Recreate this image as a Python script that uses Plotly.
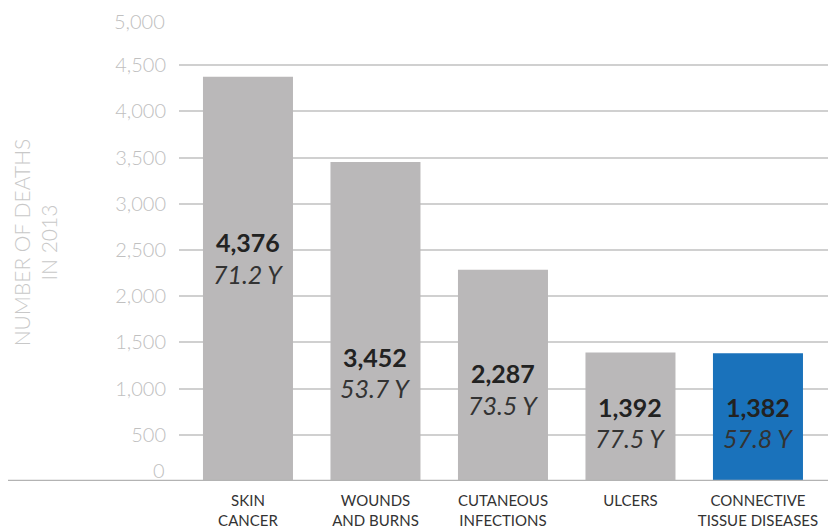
import plotly.graph_objects as go

categories = ["SKIN<br>CANCER", "WOUNDS<br>AND BURNS", "CUTANEOUS<br>INFECTIONS", "ULCERS", "CONNECTIVE<br>TISSUE DISEASES"]
deaths = [4376, 3452, 2287, 1392, 1382]
avg_age = [71.2, 53.7, 73.5, 77.5, 57.8]
y_ticks = [0, 500, 1000, 1500, 2000, 2500, 3000, 3500, 4000, 4500, 5000]
y_title = "NUMBER OF DEATHS<br>IN 2013"

# label placement (layout only)
label_y_num = [2592, 1342, 1169, 801, 801]
label_y_age = [2240, 1006, 823, 465, 465]

bar_colors = ["#bab8b9"] * 4 + ["#1a72bb"]
FONT = "Lato"
TICK_FONT = dict(family=FONT, size=20, color="#c0c0c0", weight=300)

fig = go.Figure()
fig.add_trace(go.Bar(
    x=list(range(len(categories))), y=deaths,
    marker=dict(color=bar_colors, line=dict(width=0)),
    hoverinfo="skip",
))

annotations = []
for i, (d, a) in enumerate(zip(deaths, avg_age)):
    annotations.append(dict(x=i, y=label_y_num[i], xref="x", yref="y",
                            text=f"<b>{d:,}</b>", showarrow=False,
                            font=dict(family=FONT, size=25, color="#222222", weight=900)))
    annotations.append(dict(x=i, y=label_y_age[i], xref="x", yref="y",
                            text=f"<i>{a} Y</i>", showarrow=False,
                            font=dict(family=FONT, size=25, color="#333333")))
# the zero label sits slightly above the base line
annotations.append(dict(x=0, y=y_ticks[0], xref="paper", yref="y", text=f"{y_ticks[0]:,}",
                        xanchor="right", yanchor="bottom", xshift=-12, yshift=-3,
                        showarrow=False, font=TICK_FONT))
# the top label, nudged so it stays inside the figure
annotations.append(dict(x=0, y=y_ticks[-1], xref="paper", yref="y", text=f"{y_ticks[-1]:,}",
                        xanchor="right", yanchor="middle", xshift=-12, yshift=-2,
                        showarrow=False, font=TICK_FONT))
# axis title
annotations.append(dict(x=-0.219, y=0.517, xref="paper", yref="paper", text=y_title,
                        textangle=-90, showarrow=False, xanchor="center", yanchor="middle",
                        font=dict(family=FONT, size=21, color="#c8c8c8", weight=300)))

fig.update_layout(
    width=836, height=531,
    margin=dict(l=171, r=8, t=11, b=58),
    paper_bgcolor="white", plot_bgcolor="white",
    showlegend=False,
    bargap=0.294,
    font=dict(family=FONT),
    annotations=annotations,
    xaxis=dict(
        tickmode="array", tickvals=list(range(len(categories))), ticktext=categories,
        range=[-0.541, 4.612],
        showgrid=False, zeroline=False, showline=False, ticks="",
        tickfont=dict(family=FONT, size=15, color="#333333"),
        ticklabelstandoff=9, automargin=False,
    ),
    yaxis=dict(
        range=[0, 5000], tickmode="array", tickvals=y_ticks,
        ticktext=[""] + [f"{v:,}" for v in y_ticks[1:-1]] + [""],
        showgrid=True, gridcolor="#d0d0d0", gridwidth=2,
        zeroline=False, showline=False, ticks="",
        tickfont=TICK_FONT,
        ticklabelstandoff=12,
        ticklabeloverflow="allow", automargin=False,
    ),
    shapes=[dict(type="line", xref="paper", yref="y", x0=-171/657, x1=1, y0=0, y1=0,
                 line=dict(color="#b3b3b3", width=2.5), layer="above")],
)

fig.write_html("out.html")
